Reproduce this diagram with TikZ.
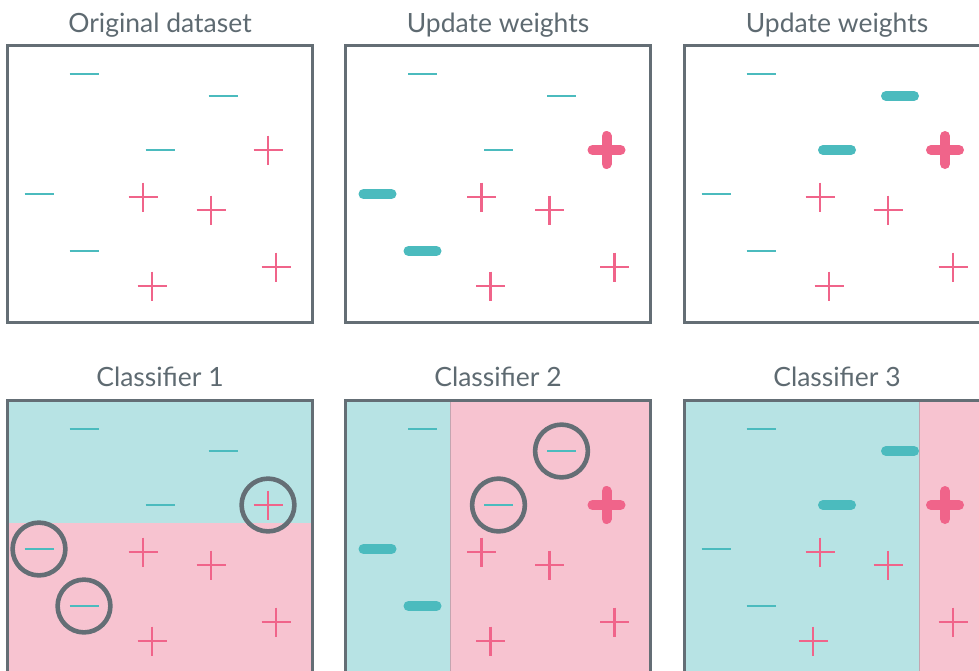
\documentclass[tikz,border=0pt]{standalone}
\usepackage{fontspec}
\setmainfont{Lato}
\definecolor{framegray}{HTML}{646E75}
\definecolor{titlegray}{HTML}{5E6A71}
\definecolor{negteal}{HTML}{4BBBBE}
\definecolor{pospink}{HTML}{F0648A}
\definecolor{negbg}{HTML}{B7E3E4}
\definecolor{posbg}{HTML}{F7C3D0}
\tikzset{
  frame/.style={draw=framegray, line width=3pt},
  paneltitle/.style={text=titlegray, font=\fontsize{26.5}{30}\selectfont, anchor=base},
  thinmark/.style={line width=2.8pt},
  boldmark/.style={line width=10pt, line cap=round},
  ring/.style={draw=framegray, line width=4.6pt},
  neg/.pic={\draw[thinmark, negteal] (-14.5,0) -- (14.5,0);},
  pos/.pic={\draw[thinmark, pospink] (-14.5,0) -- (14.5,0) (0,-14.5) -- (0,14.5);},
  bigneg/.pic={\draw[boldmark, negteal] (-14,0) -- (14,0);},
  bigpos/.pic={\draw[boldmark, pospink] (-14,0) -- (14,0) (0,-14) -- (0,14);},
}
\begin{document}
\begin{tikzpicture}[x=1pt, y=-1pt]
\useasboundingbox (0,0) rectangle (979,670);
\clip (0,0) rectangle (979,670);

% ---------- top row: the data and its reweighting ----------
\node[paneltitle] (t1) at (160,32) {Original dataset};
\node[paneltitle] (t2) at (498,32) {Update weights};
\node[paneltitle] (t3) at (837,32) {Update weights};

% panel 1
\draw[frame] (7,45) rectangle (312,322);
\foreach \p in {(84,74),(223,96),(160,150),(39,194),(84,251)} \pic at \p {neg};
\foreach \p in {(268,150),(143,197),(211,210),(276,267),(152,286)} \pic at \p {pos};

% panel 2
\begin{scope}[shift={(338.5,0)}]
  \draw[frame] (7,45) rectangle (312,322);
  \foreach \p in {(84,74),(223,96),(160,150)} \pic at \p {neg};
  \foreach \p in {(39,194),(84,251)} \pic at \p {bigneg};
  \foreach \p in {(143,197),(211,210),(276,267),(152,286)} \pic at \p {pos};
  \pic at (268,150) {bigpos};
\end{scope}

% panel 3
\begin{scope}[shift={(677,0)}]
  \draw[frame] (7,45) rectangle (312,322);
  \foreach \p in {(84,74),(39,194),(84,251)} \pic at \p {neg};
  \foreach \p in {(223,96),(160,150)} \pic at \p {bigneg};
  \foreach \p in {(143,197),(211,210),(276,267),(152,286)} \pic at \p {pos};
  \pic at (268,150) {bigpos};
\end{scope}

% ---------- bottom row: the weak classifiers ----------
\node[paneltitle] (c1) at (160,386) {Classifier 1};
\node[paneltitle] (c2) at (498,386) {Classifier 2};
\node[paneltitle] (c3) at (837,386) {Classifier 3};

% classifier 1: horizontal split
\begin{scope}[shift={(0,355)}]
  \fill[negbg] (7,45) rectangle (312,168);
  \fill[posbg] (7,168) rectangle (312,330);
  \draw[frame] (7,45) rectangle (312,330);
  \foreach \p in {(84,74),(223,96),(160,150),(39,194),(84,251)} \pic at \p {neg};
  \foreach \p in {(268,150),(143,197),(211,210),(276,267),(152,286)} \pic at \p {pos};
  \foreach \p in {(268,150),(39,194),(84,251)} \draw[ring] \p circle[radius=26.4];
\end{scope}

% classifier 2: vertical split on the left
\begin{scope}[shift={(338.5,355)}]
  \fill[negbg] (7,45) rectangle (112,330);
  \fill[posbg] (112,45) rectangle (312,330);
  \draw[framegray!35!posbg, line width=0.6pt] (112,45) -- (112,330);
  \draw[frame] (7,45) rectangle (312,330);
  \foreach \p in {(84,74),(223,96),(160,150)} \pic at \p {neg};
  \foreach \p in {(39,194),(84,251)} \pic at \p {bigneg};
  \foreach \p in {(143,197),(211,210),(276,267),(152,286)} \pic at \p {pos};
  \pic at (268,150) {bigpos};
  \foreach \p in {(223,96),(160,150)} \draw[ring] \p circle[radius=26.4];
\end{scope}

% classifier 3: vertical split on the right
\begin{scope}[shift={(677,355)}]
  \fill[negbg] (7,45) rectangle (242,330);
  \fill[posbg] (242,45) rectangle (312,330);
  \draw[framegray!35!posbg, line width=0.6pt] (242,45) -- (242,330);
  \draw[frame] (7,45) rectangle (312,330);
  \foreach \p in {(84,74),(39,194),(84,251)} \pic at \p {neg};
  \foreach \p in {(223,96),(160,150)} \pic at \p {bigneg};
  \foreach \p in {(143,197),(211,210),(276,267),(136,286)} \pic at \p {pos};
  \pic at (268,150) {bigpos};
\end{scope}
\end{tikzpicture}
\end{document}
